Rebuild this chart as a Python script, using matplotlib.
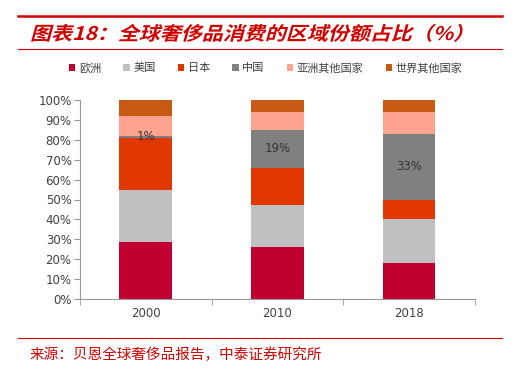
import matplotlib
matplotlib.use("Agg")
import matplotlib.pyplot as plt
import numpy as np
from matplotlib.lines import Line2D
from matplotlib.textpath import TextPath
from matplotlib.patches import PathPatch
from matplotlib.font_manager import FontProperties
from matplotlib.transforms import Affine2D, IdentityTransform
from matplotlib.path import Path

plt.rcParams['font.family'] = ['Noto Sans CJK SC', 'DejaVu Sans']

years = ["2000", "2010", "2018"]
series_names = ["欧洲", "美国", "日本", "中国", "亚洲其他国家", "世界其他国家"]
europe = [28.5, 26, 18]
usa = [26.5, 21, 22]
japan = [26, 19, 10]
china = [1, 19, 33]
asia_other = [10, 9, 11]
rest_world = [8, 6, 6]
china_labels = ["1%", "19%", "33%"]
yticks = [0, 10, 20, 30, 40, 50, 60, 70, 80, 90, 100]
title = "图表18：全球奢侈品消费的区域份额占比（%）"
source = "来源：贝恩全球奢侈品报告，中泰证券研究所"

colors = ["#C00030", "#C0C0C0", "#E03800", "#808080", "#FFA390", "#C85A14"]
data = [europe, usa, japan, china, asia_other, rest_world]

W, H = 526, 380
fig = plt.figure(figsize=(W / 100, H / 100), dpi=100)
ax = fig.add_axes([0.152, 0.213, 0.751, 0.524])

x = np.arange(len(years))
bottom = np.zeros(len(years))
bars = []
for vals, col, name in zip(data, colors, series_names):
    b = ax.bar(x, vals, 0.4, bottom=bottom, color=col, label=name, edgecolor='none')
    bars.append(b)
    if name == "中国":
        for xi, v, bt, lab in zip(x, vals, bottom, china_labels):
            ax.text(xi, bt + v / 2, lab, ha='center', va='center', fontsize=8.5,
                    color='#333333', family=['DejaVu Sans'])
    bottom = bottom + np.array(vals)

ax.set_xlim(-0.5, 2.5)
ax.set_ylim(0, 100)
ax.set_yticks(yticks)
ax.set_yticklabels([f"{t}%" for t in yticks], fontsize=8.5, color='#404040',
                   family=['DejaVu Sans'])
ax.set_xticks(x)
ax.set_xticklabels(years, fontsize=8.5, color='#404040', family=['DejaVu Sans'])
ax.set_xticks([-0.5, 0.5, 1.5, 2.5], minor=True)
ax.tick_params(axis='x', which='major', length=0, pad=6)
ax.tick_params(axis='x', which='minor', length=4, color='#999999', direction='out')
ax.tick_params(axis='y', length=4, color='#999999', direction='out', pad=2)
for s in ['top', 'right']:
    ax.spines[s].set_visible(False)
for s in ['left', 'bottom']:
    ax.spines[s].set_color('#999999')
    ax.spines[s].set_linewidth(0.8)

# header lines
fig.add_artist(Line2D([18 / W, 502 / W], [1 - 16 / H, 1 - 16 / H], color='#D00000', lw=1.8))
fig.add_artist(Line2D([18 / W, 502 / W], [1 - 49 / H, 1 - 49 / H], color='#D00000', lw=0.8))

# italic (skewed) bold title drawn as a text path
fp = FontProperties(family='Noto Sans CJK SC', weight='bold')
tp = TextPath((0, 0), title, size=13.5 * 100 / 72, prop=fp)
tr = Affine2D().skew_deg(14, 0).scale(1.12, 1.0).translate(30, H - 40)
skewed = Path(tr.transform(tp.vertices), tp.codes)
fig.add_artist(PathPatch(skewed, facecolor='#D00000', edgecolor='none',
                         transform=IdentityTransform()))

# legend
leg = fig.legend(handles=[b[0] for b in bars], labels=series_names, loc='center',
                 bbox_to_anchor=(0.505, 1 - 68 / H), ncol=6, frameon=False, fontsize=8,
                 handlelength=0.6, handleheight=0.6, handletextpad=0.3, columnspacing=2.0)
for t in leg.get_texts():
    t.set_color('#404040')

# footer
fig.add_artist(Line2D([18 / W, 502 / W], [1 - 338 / H, 1 - 338 / H], color='#D00000', lw=0.8))
fig.text(30 / W, 1 - 355 / H, source, fontsize=10.5,
         color='#D00000', ha='left', va='center')

fig.savefig("out.png", dpi=100)
